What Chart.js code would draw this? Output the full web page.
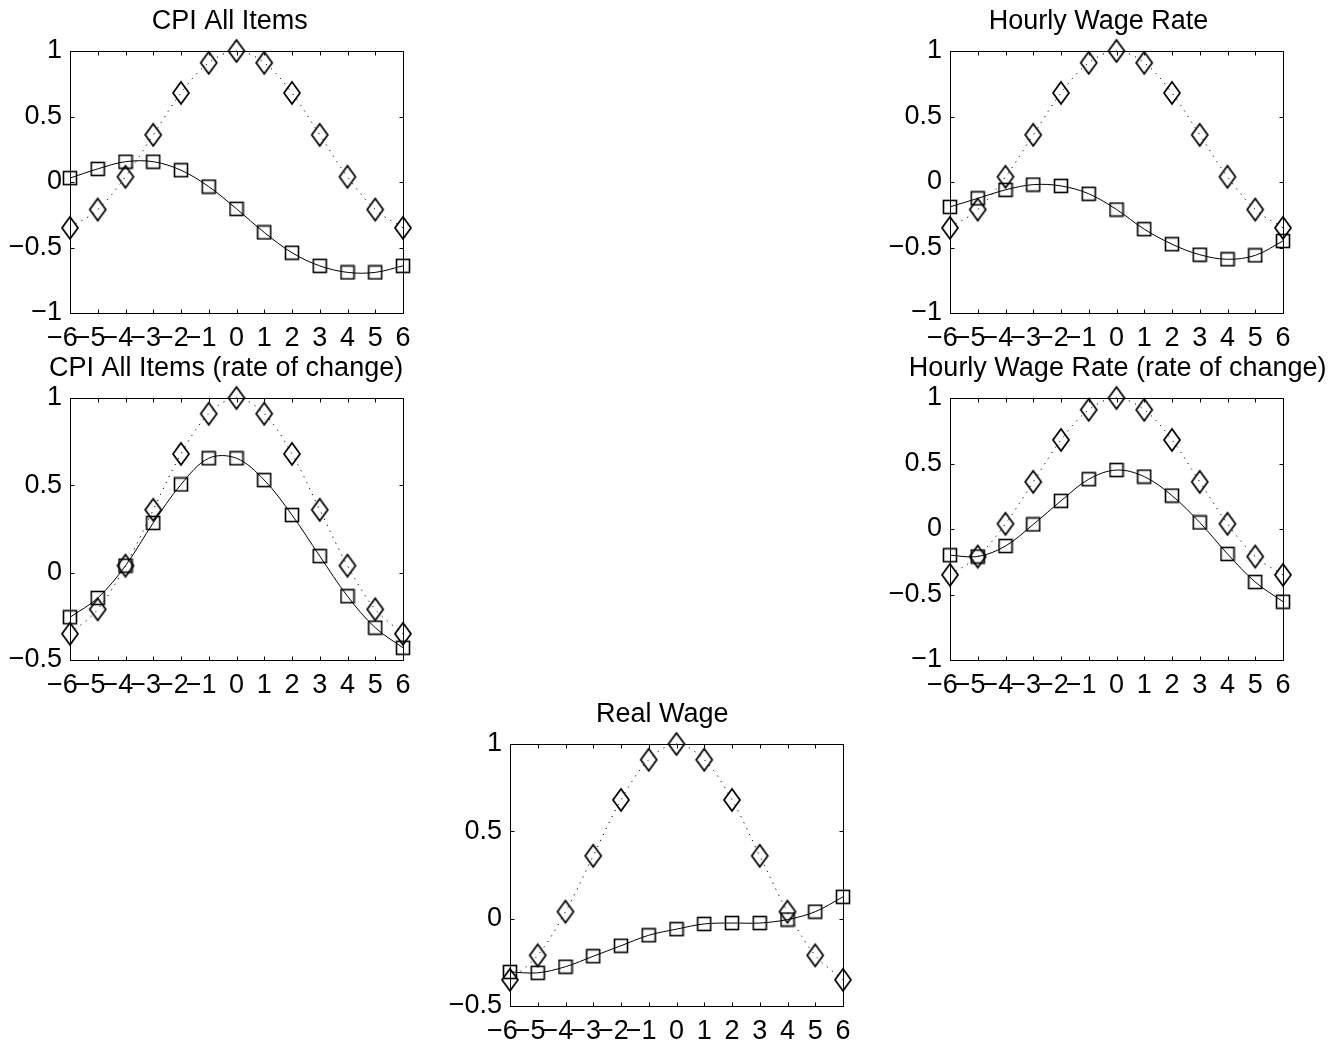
<!DOCTYPE html>
<html>
<head>
<meta charset="utf-8">
<script src="https://cdn.jsdelivr.net/npm/chart.js@4.4.1/dist/chart.umd.min.js"></script>
<style>
	html, body { margin: 0; padding: 0; background: #fff; overflow: hidden; }
	#page { position: relative; width: 1343px; height: 1048px; }
	#page canvas { position: absolute; }
</style>
</head>
<body>
<div id="page">
	<canvas id="cpi"></canvas>
	<canvas id="wage"></canvas>
	<canvas id="cpiRate"></canvas>
	<canvas id="wageRate"></canvas>
	<canvas id="realWage"></canvas>
</div>
<script>
// data
const lags = [-6, -5, -4, -3, -2, -1, 0, 1, 2, 3, 4, 5, 6];
const cycle = [-0.35, -0.21, 0.04, 0.36, 0.68, 0.91, 1.0, 0.91, 0.68, 0.36, 0.04, -0.21, -0.35];
const cpiAll = [0.03, 0.10, 0.155, 0.155, 0.09, -0.035, -0.205, -0.385, -0.54, -0.64, -0.69, -0.69, -0.64];
const hourlyWage = [-0.19, -0.125, -0.06, -0.02, -0.03, -0.09, -0.21, -0.36, -0.475, -0.555, -0.59, -0.56, -0.45];
const cpiChange = [-0.255, -0.145, 0.04, 0.285, 0.505, 0.655, 0.655, 0.53, 0.33, 0.095, -0.135, -0.315, -0.43];
const wageChange = [-0.20, -0.21, -0.13, 0.035, 0.215, 0.38, 0.45, 0.40, 0.255, 0.05, -0.19, -0.405, -0.555];
const realWage = [-0.305, -0.31, -0.275, -0.215, -0.155, -0.095, -0.06, -0.03, -0.025, -0.025, -0.005, 0.04, 0.125];

const xTicks = [-6, -5, -4, -3, -2, -1, 0, 1, 2, 3, 4, 5, 6];
const yTicksWide = [-1, -0.5, 0, 0.5, 1];
const yTicksNarrow = [-0.5, 0, 0.5, 1];

const FONT = '"Liberation Sans", Arial, Helvetica, sans-serif';
Chart.defaults.font.family = FONT;
Chart.defaults.font.size = 27;
Chart.defaults.color = '#000';

// matlab style minus sign
function fmt(v) {
	return v < 0 ? '\u2212' + Math.abs(v) : String(v);
}
// x labels: the digit sits on the tick and the minus hangs off to the left
function fmtX(v) {
	return v < 0 ? fmt(v) + '\u2007' : fmt(v);
}

function marker(kind) {
	const c = document.createElement('canvas');
	const ctx = c.getContext('2d');
	ctx.strokeStyle = '#000';
	if (kind === 'diamond') {
		c.width = 20; c.height = 26;
		ctx.lineWidth = 1.75;
		ctx.beginPath();
		ctx.moveTo(10, 2);
		ctx.lineTo(18, 13);
		ctx.lineTo(10, 24);
		ctx.lineTo(2, 13);
		ctx.closePath();
		ctx.stroke();
	} else {
		c.width = 16; c.height = 16;
		ctx.lineWidth = 1.6;
		ctx.strokeRect(1.5, 1.5, 13, 13);
	}
	return c;
}
const diamondImg = marker('diamond');
const squareImg = marker('square');

// box around the plot with inward ticks on all sides
const frame = {
	id: 'frame',
	beforeDatasetsDraw(chart) {
		const { ctx, chartArea: a, scales } = chart;
		const L = Math.round(a.left) + 0.5, R = Math.round(a.right) + 0.5;
		const T = Math.round(a.top) + 0.5, B = Math.round(a.bottom) + 0.5;
		ctx.save();
		ctx.strokeStyle = '#000';
		ctx.lineWidth = 1;
		ctx.strokeRect(L, T, R - L, B - T);
		ctx.beginPath();
		scales.x.ticks.forEach(t => {
			const px = Math.round(scales.x.getPixelForValue(t.value)) + 0.5;
			ctx.moveTo(px, B); ctx.lineTo(px, B - 4);
			ctx.moveTo(px, T); ctx.lineTo(px, T + 4);
		});
		scales.y.ticks.forEach(t => {
			const py = Math.round(scales.y.getPixelForValue(t.value)) + 0.5;
			ctx.moveTo(L, py); ctx.lineTo(L + 4, py);
			ctx.moveTo(R, py); ctx.lineTo(R - 4, py);
		});
		ctx.stroke();
		ctx.restore();
	}
};

// panel title; in the source the titles sit a bit left of the plot centre
const panelTitle = {
	id: 'panelTitle',
	afterDraw(chart, args, opts) {
		const { ctx, chartArea: a } = chart;
		ctx.save();
		ctx.fillStyle = '#000';
		ctx.font = '27px ' + FONT;
		ctx.textAlign = 'center';
		ctx.textBaseline = 'middle';
		ctx.fillText(opts.text, (a.left + a.right) / 2 + opts.shift, a.top - 29);
		ctx.restore();
	}
};

function makePanel(id, title, values, yTicks, left, top, titleShift) {
	const el = document.getElementById(id);
	el.width = 473;
	el.height = 358;
	el.style.left = left + 'px';
	el.style.top = top + 'px';

	const yMin = yTicks[0], yMax = yTicks[yTicks.length - 1];

	new Chart(el, {
		type: 'line',
		data: {
			datasets: [
				{
					data: lags.map((x, i) => ({ x: x, y: values[i] })),
					borderColor: '#000',
					borderWidth: 1,
					tension: 0.35,
					pointStyle: squareImg,
					clip: false,
				},
				{
					data: lags.map((x, i) => ({ x: x, y: cycle[i] })),
					borderColor: '#000',
					borderWidth: 1,
					borderDash: [1.2, 5.5],
					tension: 0.35,
					pointStyle: diamondImg,
					clip: false,
				}
			]
		},
		options: {
			responsive: false,
			animation: false,
			events: [],
			layout: { padding: { left: 0, right: 70, top: 51, bottom: 0 } },
			plugins: {
				legend: { display: false },
				tooltip: { enabled: false },
				title: { display: false },
				panelTitle: { text: title, shift: titleShift }
			},
			scales: {
				x: {
					type: 'linear',
					min: -6,
					max: 6,
					grid: { display: false, drawTicks: false },
					border: { display: false },
					afterBuildTicks: s => { s.ticks = xTicks.map(v => ({ value: v })); },
					afterFit: s => { s.height = 45; },
					ticks: { autoSkip: false, maxRotation: 0, padding: 9, callback: v => fmtX(v) }
				},
				y: {
					min: yMin,
					max: yMax,
					grid: { display: false, drawTicks: false },
					border: { display: false },
					afterBuildTicks: s => { s.ticks = yTicks.map(v => ({ value: v })); },
					afterFit: s => { s.width = 70; },
					ticks: { padding: 8, callback: v => fmt(v) }
				}
			}
		},
		plugins: [frame, panelTitle]
	});
}

makePanel('cpi', 'CPI All Items', cpiAll, yTicksWide, 0, 0, -6.7);
makePanel('wage', 'Hourly Wage Rate', hourlyWage, yTicksWide, 880, 0, -18);
makePanel('cpiRate', 'CPI All Items (rate of change)', cpiChange, yTicksNarrow, 0, 347, -10.4);
makePanel('wageRate', 'Hourly Wage Rate (rate of change)', wageChange, yTicksWide, 880, 347, 1.2);
makePanel('realWage', 'Real Wage', realWage, yTicksNarrow, 440, 693, -14.2);
</script>
</body>
</html>
